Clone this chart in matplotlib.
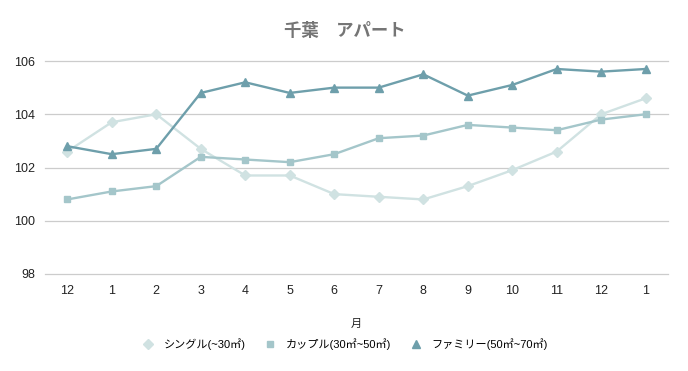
import matplotlib.pyplot as plt

plt.rcParams['font.family'] = ['Liberation Sans', 'Noto Sans CJK JP', 'DejaVu Sans']

months = ["12", "1", "2", "3", "4", "5", "6", "7", "8", "9", "10", "11", "12", "1"]
single = [102.6, 103.7, 104.0, 102.7, 101.7, 101.7, 101.0, 100.9, 100.8, 101.3, 101.9, 102.6, 104.0, 104.6]
couple = [100.8, 101.1, 101.3, 102.4, 102.3, 102.2, 102.5, 103.1, 103.2, 103.6, 103.5, 103.4, 103.8, 104.0]
family = [102.8, 102.5, 102.7, 104.8, 105.2, 104.8, 105.0, 105.0, 105.5, 104.7, 105.1, 105.7, 105.6, 105.7]
labels = ["シングル(~30㎡)", "カップル(30㎡~50㎡)", "ファミリー(50㎡~70㎡)"]
yticks = [98, 100, 102, 104, 106]

fig = plt.figure(figsize=(6.88, 3.71), dpi=100)
ax = fig.add_axes([45 / 688, 1 - 274 / 371, 623 / 688, 213 / 371])

x = range(len(months))
ax.plot(x, single, color="#d0e2e2", marker="D", markersize=5, lw=1.7, label=labels[0])
ax.plot(x, couple, color="#a4c6ca", marker="s", markersize=5, lw=1.7, label=labels[1])
ax.plot(x, family, color="#6e9fab", marker="^", markersize=6, lw=1.7, label=labels[2])

ax.set_xlim(-0.5, len(months) - 0.5)
ax.set_ylim(98, 106)
ax.set_xticks(list(x))
ax.set_xticklabels(months)
ax.set_yticks(yticks)
ax.grid(axis="y", color="#cccccc", lw=0.9)
for gl in ax.get_ygridlines():
    gl.set_clip_on(False)
ax.set_axisbelow(True)
for s in ax.spines.values():
    s.set_visible(False)
ax.tick_params(length=0, labelsize=9, colors="#222222")
ax.tick_params(axis="x", pad=8)
ax.tick_params(axis="y", pad=7)

ax.set_xlabel("月", fontsize=8, color="#222222", labelpad=16)
fig.text(345 / 688, 1 - 31 / 371, "千葉　アパート", ha="center", va="center",
         fontsize=12.5, fontweight="bold", color="#757575")

leg = fig.legend(loc="center", bbox_to_anchor=(345 / 688, 1 - 344 / 371), ncol=3, frameon=False,
                 fontsize=8, handlelength=1.0, columnspacing=1.7, handletextpad=0.9)
for h in leg.legend_handles:
    h.set_linestyle("none")

fig.savefig("out.png", dpi=100)
